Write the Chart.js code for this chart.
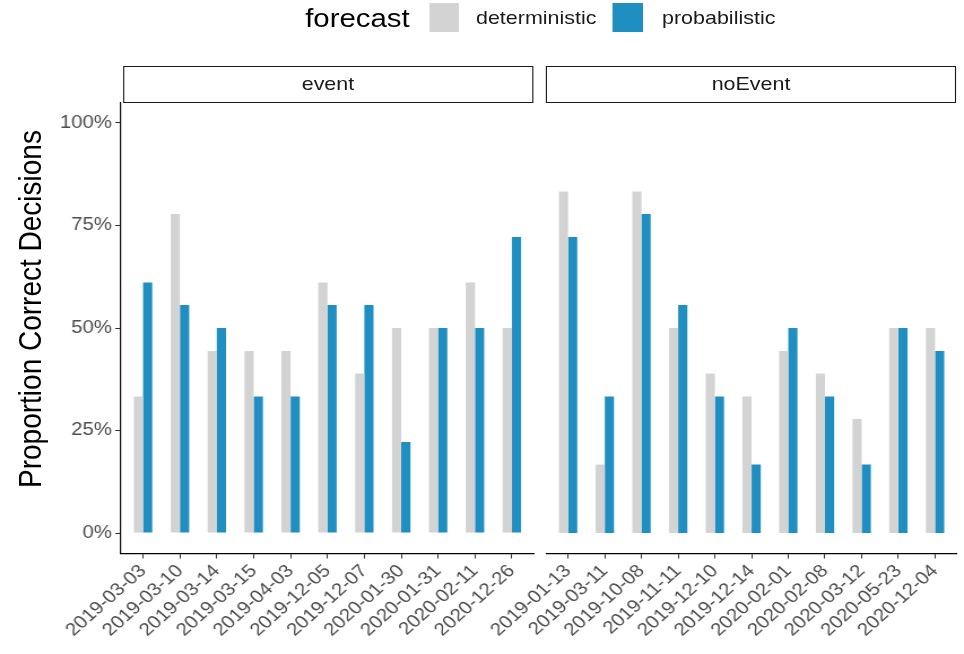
<!DOCTYPE html>
<html>
<head>
<meta charset="utf-8">
<script src="https://cdn.jsdelivr.net/npm/chart.js@4.4.1/dist/chart.umd.min.js"></script>
<style>
  html, body { margin: 0; padding: 0; background: #fff; overflow: hidden; }
  body { width: 964px; height: 654px; position: relative; }
  /* whole figure is laid out 853px wide and stretched to 964px */
  #page {
    position: absolute; left: 0; top: 0; width: 853px; height: 654px;
    transform: scaleX(1.1301); transform-origin: 0 0;
    font-family: "Liberation Sans", Arial, sans-serif; color: #1a1a1a;
  }
  .abs { position: absolute; white-space: nowrap; }
  .key { position: absolute; top: 3px; width: 26.5px; height: 29px; }
  .legend-text { top: 0; height: 36px; line-height: 36px; font-size: 19px; }
  .strip {
    position: absolute; top: 66px; height: 36.5px; box-sizing: border-box;
    border: 1.3px solid #1a1a1a; background: #fff;
    text-align: center; line-height: 34px; font-size: 19px;
  }
  #ytitle {
    left: -173.5px; top: 288.5px; width: 400px; height: 40px; line-height: 40px;
    text-align: center; font-size: 28px; color: #000; transform: rotate(-90deg);
  }
  canvas { position: absolute; top: 0; }
</style>
</head>
<body>
<div id="page">
  <div class="abs" style="left:270px; top:0; height:36px; line-height:36px; font-size:26px; color:#000;">forecast</div>
  <div class="key" style="left:379.6px; background:#d3d3d3;"></div>
  <div class="abs legend-text" style="left:421.2px;">deterministic</div>
  <div class="key" style="left:542.4px; background:#1f8ec1;"></div>
  <div class="abs legend-text" style="left:585.8px;">probabilistic</div>

  <div class="strip" style="left:108.8px; width:362.8px;">event</div>
  <div class="strip" style="left:483.2px; width:362.8px;">noEvent</div>

  <div id="ytitle" class="abs">Proportion Correct Decisions</div>

  <!-- the right canvas starts early so its rotated labels have room on the left -->
  <canvas id="left" width="478" height="654" style="left:0;"></canvas>
  <canvas id="right" width="473" height="654" style="left:380px;"></canvas>
</div>

<script>
// facet: event
const eventDates = ["2019-03-03", "2019-03-10", "2019-03-14", "2019-03-15", "2019-04-03", "2019-12-05",
                    "2019-12-07", "2020-01-30", "2020-01-31", "2020-02-11", "2020-12-26"];
const eventDeterministic = [33.3, 77.8, 44.4, 44.4, 44.4, 61.1, 38.9, 50, 50, 61.1, 50];
const eventProbabilistic = [61.1, 55.6, 50, 33.3, 33.3, 55.6, 55.6, 22.2, 50, 50, 72.2];

// facet: noEvent
const noEventDates = ["2019-01-13", "2019-03-11", "2019-10-08", "2019-11-11", "2019-12-10", "2019-12-14",
                      "2020-02-01", "2020-02-08", "2020-03-12", "2020-05-23", "2020-12-04"];
const noEventDeterministic = [83.3, 16.7, 83.3, 50, 38.9, 33.3, 44.4, 38.9, 27.8, 50, 50];
const noEventProbabilistic = [72.2, 33.3, 77.8, 55.6, 33.3, 16.7, 50, 33.3, 16.7, 50, 44.4];

const yTicks = [0, 25, 50, 75, 100];

const GREY = "#d3d3d3";
const BLUE = "#1f8ec1";
const FONT = "'Liberation Sans', Arial, sans-serif";

function toPoints(values) {
  return values.map((v, i) => ({ x: i, y: v }));
}

function panel(id, dates, det, prob, showY, padLeft, padRight) {
  return new Chart(document.getElementById(id), {
    type: "bar",
    data: {
      datasets: [
        { label: "deterministic", data: toPoints(det), backgroundColor: GREY },
        { label: "probabilistic", data: toPoints(prob), backgroundColor: BLUE }
      ]
    },
    options: {
      responsive: false,
      animation: false,
      layout: { padding: { top: 102.5, left: padLeft, right: padRight, bottom: 0 } },
      datasets: { bar: { categoryPercentage: 0.5, barPercentage: 1 } },
      plugins: { legend: { display: false }, tooltip: { enabled: false } },
      scales: {
        x: {
          type: "linear",
          min: -0.6,
          max: 10.6,
          offset: false,
          afterBuildTicks: (s) => { s.ticks = dates.map((d, i) => ({ value: i })); },
          // rotated labels may hang outside the panel; keep the panel width fixed
          afterFit: (s) => { s.height = 100.5; s.paddingLeft = 0; s.paddingRight = 0; },
          border: { display: true, color: "#000", width: 1.2 },
          grid: { display: true, drawOnChartArea: false, drawTicks: true, tickLength: 5, color: "#333", offset: false },
          ticks: {
            autoSkip: false,
            minRotation: 45,
            maxRotation: 45,
            padding: 2,
            color: "#4d4d4d",
            font: { family: FONT, size: 18 },
            callback: (v, i) => dates[i]
          }
        },
        y: {
          display: showY,
          min: -5,
          max: 105,
          afterBuildTicks: (s) => { s.ticks = yTicks.map((v) => ({ value: v })); },
          afterFit: (s) => {
            if (!showY) return;
            s.width = 107; s.paddingTop = 0; s.paddingBottom = 0;
          },
          border: { display: true, color: "#000", width: 1.2 },
          grid: { display: true, drawOnChartArea: false, drawTicks: true, tickLength: 5, color: "#333" },
          ticks: {
            padding: 3,
            color: "#4d4d4d",
            font: { family: FONT, size: 18 },
            callback: (v) => v + "%"
          }
        }
      }
    }
  });
}

panel("left", eventDates, eventDeterministic, eventProbabilistic, true, 0, 5.5);
panel("right", noEventDates, noEventDeterministic, noEventProbabilistic, false, 103.2, 6.1);
</script>
</body>
</html>
